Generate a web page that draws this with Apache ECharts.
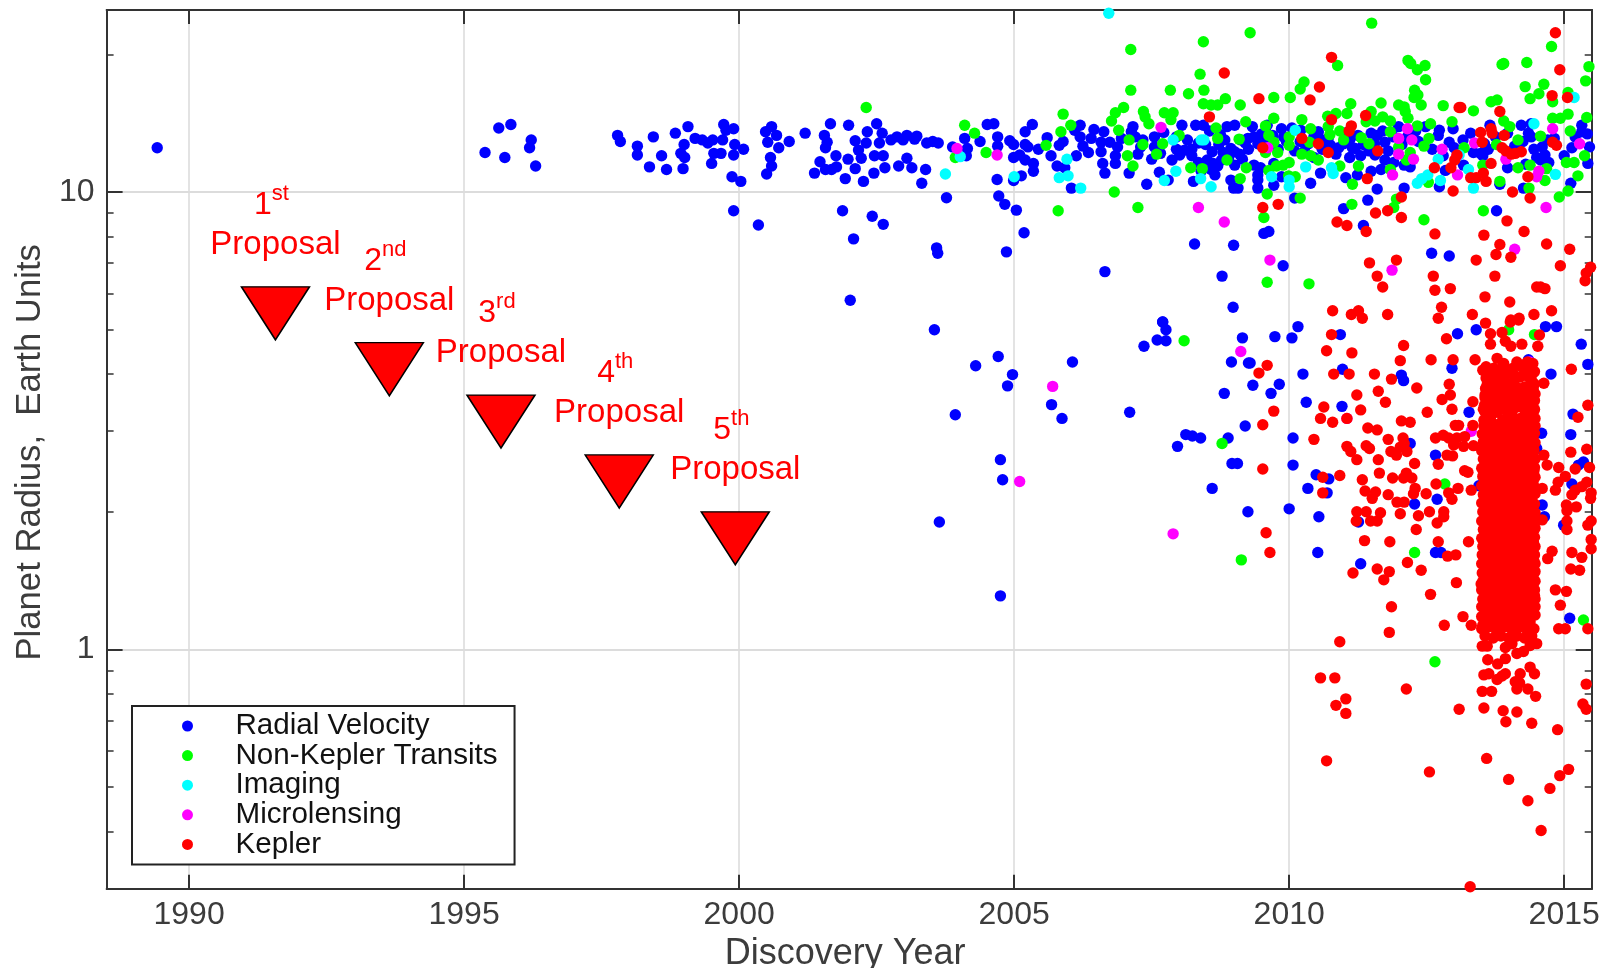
<!DOCTYPE html>
<html>
<head>
<meta charset="utf-8">
<style>html,body{margin:0;padding:0;background:#fff}#c{width:1612px;height:968px}</style>
<script src="https://cdn.jsdelivr.net/npm/echarts@6/dist/echarts.min.js"></script>
</head>
<body>
<div id="c"></div>
<script>
const radialVelocity = [[1989.42,12.5],[1995.38,12.2],[1995.63,13.8],[1995.85,14.05],[1995.74,11.9],[1996.19,12.5],[1996.22,13.0],[1996.3,11.4],
[1997.79,13.3],[1997.84,12.9],[1998.15,12.6],[1998.15,12.05],[1998.44,13.2],[1998.59,12.0],[1998.37,11.35],[1998.68,11.2],[1998.84,13.45],[1999.07,13.9],[1999.0,12.7],[1998.94,12.15],[1999.01,11.9],[1998.98,11.25],[1999.2,13.1],[1999.33,13.0],[1999.43,12.8],[1999.52,13.0],[1999.7,13.0],[1999.72,14.05],[1999.76,13.65],[1999.9,13.75],[1999.92,12.7],[2000.08,12.4],[1999.9,12.05],[1999.67,12.15],[1999.54,12.15],[1999.5,11.55],[1999.87,10.8],[2000.03,10.55],[1999.9,9.1],[2000.35,8.47],[2000.59,13.9],[2000.48,13.55],[2000.68,13.3],[2000.52,12.85],[2000.72,12.5],[2000.91,12.9],[2000.57,11.9],[2000.59,11.4],[2000.5,10.95],[2001.2,13.45],[2001.66,14.1],[2001.55,13.3],[2001.6,12.85],[2001.57,12.5],[2001.47,11.65],[2001.37,11.0],[2001.57,11.2],[2001.68,11.2],[2001.76,12.0],[2001.77,11.35],[2001.99,14.0],[2001.98,11.8],[2001.93,10.7],[2002.11,12.95],[2002.17,12.35],[2002.22,11.85],[2002.11,11.25],[2002.26,10.55],[2002.45,11.0],[2002.5,14.1],[2002.33,13.55],[2002.31,12.8],[2002.46,12.0],[2002.62,12.0],[2002.6,13.45],[2002.55,12.8],[2002.65,11.3],[2002.76,13],[2002.87,13.2],[2002.98,13],[2003.05,13.3],[2003.19,13.05],[2003.23,13.25],[2003.05,11.85],[2002.9,11.4],[2003.14,11.3],[2003.39,11.2],[2003.32,10.45],[2003.41,12.8],[2003.52,12.9],[2003.62,12.8],[2003.88,12.55],[2003.77,9.72],[2001.88,9.1],[2002.42,8.85],[2002.62,8.5],[2002.08,7.9],[2003.59,7.55],[2003.61,7.35],[2004.1,13.1],[2004.15,12.45],[2004.13,12.0],[2004.38,12.9],[2004.51,14.05],[2004.63,14.1],[2004.7,13.2],[2004.7,12.6],[2004.92,12.95],[2004.99,12.7],[2005.2,13.55],[2005.33,14.05],[2005.2,12.7],[2005.1,12.05],[2004.99,11.9],[2005.2,11.75],[2005.35,11.55],[2005.35,11.1],[2005.13,10.85],[2004.99,10.6],[2004.69,10.65],[2004.72,9.8],[2004.83,9.4],[2005.04,9.13],[2005.18,8.15],[2004.86,7.4],[2006.65,6.7],
[2005.6,13.15],[2005.44,12.4],[2005.25,12.55],[2005.67,12.0],[2005.82,12.65],[2005.89,12.9],[2005.78,11.4],[2005.92,11.3],[2006.04,10.2],[2006.13,12.0],[2006.1,13.65],[2006.2,14.0],[2006.2,13.2],[2006.25,12.6],[2006.45,13.7],[2006.63,13.55],[2006.58,12.85],[2006.58,12.25],[2006.61,11.55],[2006.65,11.0],[2006.74,12.85],[2006.88,12.55],[2006.84,12.0],[2006.84,11.55],[2007.09,11.0],[2007.13,13.55],[2007.16,13.9],[2007.2,13.2],[2007.3,12.55],[2007.34,13.0],[2007.41,10.4],[2007.55,13.2],[2007.55,12.55],[2007.66,12.15],[2007.64,11.05],[2007.8,10.62],[2008.05,14.0],[2007.87,11.75],[2008.01,12.05],[2008.15,13.0],[2008.23,12.4],[2008.3,14.0],[2008.44,14.0],[2008.23,12.0],[2008.26,10.55],[2008.48,12.7],[2008.51,11.75],[2008.62,11.55],[2008.58,11.2],[2008.65,10.9],[2008.83,13.0],[2008.87,13.9],[2009.01,14.0],[2008.94,12.45],[2009.01,12.25],[2009.01,11.45],[2008.94,10.62],[2008.99,10.2],[2009.07,10.2],[2009.26,12.4],[2009.33,13.9],[2009.36,13.2],[2009.43,12.75],[2009.36,11.45],[2009.43,10.9],[2009.43,10.62],[2009.43,10.2],[2009.6,14],[2009.86,13.75],[2009.72,11.55],[2009.72,10.35],[2009.86,10.8],[2010.1,9.7],[2010.39,10.45],[2010.35,12.75],[2010.21,13.65],[2010.53,13.55],[2010.71,13.1],[2010.57,11.0],[2011.03,10.75],[2011.24,10.9],[2011.49,11.1],[2010.99,12.75],[2011.2,12.45],[2011.49,13.45],[2011.6,13.3],[2011.56,12.05],[2011.67,11.2],[2011.74,11.75],[2011.6,10.15],[2011.74,12.85],[2011.99,13.9],[2012.09,10.2],[2012.09,11.45],[2012.2,11.35],[2012.73,13.65],[2012.71,13.3],[2012.91,12.85],[2012.98,13.75],[2012.84,11.15],[2012.73,10.27],[2013.17,11.45],[2013.16,13.0],[2013.3,13.45],[2013.48,12.15],[2013.62,12.4],[2013.65,14.0],[2013.83,10.4],[2013.97,11.3],[2014.22,14.0],[2014.4,14.1],[2014.4,13.2],[2014.6,12.55],[2014.65,12.05],[2014.57,11.75],[2014.26,10.2],[2014.82,13.1],[2015.0,12.0],[2015.14,12.5],[2015.12,10.45],[2015.32,14.0],[2015.32,13.55],[2015.46,12.55],[2015.43,11.55],[2013.77,9.1],[2011.43,9.6],[2010.99,9.2],[2011.35,8.45],
[2008.28,7.7],[2008.99,7.65],[2008.78,6.55],[2008.98,5.6],[2007.7,5.2],[2009.54,8.12],[2009.63,8.2],[2009.89,6.9],[2012.59,7.35],[2012.91,7.25],
[2007.95,12.4],[2008.1,12.35],[2008.7,11.4],[2008.77,11.75],[2009.25,13.1],[2009.48,11.3],[2010.6,13.0],[2010.9,12.5],[2011.15,12.5],[2011.35,12.7],[2011.9,13.2],[2012.48,13.9],[2012.3,13.6],[2013.55,12.75],[2013.97,13.45],[2014.35,13.45],[2014.5,11.9],[2014.45,12.4],[2014.7,13.0],[2013.52,12.0],[2009.9,13.2],[2010.05,13.8],[2010.45,13.2],[2011.1,13.0],[2008.75,13.35],[2009.12,13.0],[2009.1,12.1],[2008.35,11.6],[2008.4,11.1],[2007.25,12.1],
[2008.72,12.7],[2008.8,12.2],[2008.9,11.9],[2009.15,11.8],[2009.2,12.8],[2009.5,13.4],[2009.55,12.75],[2009.7,13.3],[2009.8,12.4],[2009.95,12.9],[2010.1,12.3],[2010.2,12.9],[2010.28,12.3],[2010.45,11.9],[2010.6,12.4],[2010.75,12.65],[2010.85,12.1],[2011.05,13.5],[2011.1,11.9],[2011.25,13.3],[2011.3,12.0],[2011.45,12.3],[2011.55,12.75],[2011.7,13.6],[2011.8,12.3],[2011.9,11.6],[2012.05,12.7],[2012.15,13.2],[2012.35,12.9],[2012.6,12.4],[2012.8,12.0],[2013.0,12.5],[2013.35,12.2],[2013.75,13.2],[2014.1,12.6],[2014.25,12.9],[2014.3,11.5],[2014.72,11.6],[2015.2,13.2],[2015.42,13.4],[2007.5,11.8],[2007.72,13.5],[2007.95,13.2],[2008.55,13.6],[2008.6,12.25],[2008.35,12.8],[2006.35,12.2],[2006.95,13.1],[2006.4,13.1],
[2002.02,5.8],[2003.55,5.0],[2004.3,4.17],[2004.71,4.37],[2004.97,3.99],[2004.88,3.77],[2003.93,3.26],[2004.75,2.6],[2004.79,2.35],[2003.64,1.9],[2004.75,1.31],[2006.06,4.25],[2005.68,3.43],[2005.87,3.2],[2007.1,3.3],[2007.36,4.6],[2007.6,4.75],[2007.7,5.2],[2007.76,5.0],[2007.76,4.73],[2007.97,2.78],[2008.12,2.95],[2008.24,2.93],
[2009.15,4.8],[2009.74,4.83],[2010.05,4.8],[2010.16,5.08],[2010.93,4.88],[2013.06,4.9],[2013.4,5.0],[2014.66,5.08],[2014.86,5.08],[2015.31,4.65],[2015.43,4.2],[2008.95,4.25],[2009.26,4.23],[2009.29,4.23],[2009.34,3.78],[2009.82,3.8],[2008.82,3.63],[2009.67,3.63],[2010.25,4.0],[2010.97,4.1],[2012.04,3.98],[2012.08,3.87],[2012.96,4.12],[2014.35,4.3],[2014.76,4.0],[2010.31,3.47],[2010.96,3.4],[2013.27,3.3],[2015.16,3.27],[2009.2,3.08],[2015.12,2.95],[2014.59,2.97],[2008.89,2.9],[2008.39,2.9],[2010.07,2.9],[2012.2,2.82],[2014.5,2.75],[2012.66,2.66],[2010.07,2.53],[2008.96,2.55],[2009.06,2.55],[2010.49,2.41],[2010.72,2.36],[2015.35,2.57],[2015.26,2.53],[2015.14,2.3],[2008.6,2.25],[2010.34,2.25],[2010.69,2.2],[2012.28,2.08],[2012.69,2.13],[2013.45,2.28],[2014.6,2.07],[2014.64,1.95],[2014.99,1.87],[2009.25,2.0],[2010.0,2.03],[2010.54,1.95],[2011.26,1.9],[2010.52,1.63],[2012.66,1.63],[2012.76,1.63],[2011.3,1.54],[2015.1,1.17]];

const nonKeplerTransits = [[2002.31,15.3],[2004.1,14.0],[2004.28,13.45],[2004.49,12.2],[2003.93,11.9],
[2009.29,22.3],[2008.44,21.3],[2007.12,20.5],[2011.5,23.4],[2008.38,18.1],[2014.77,20.8],[2010.88,18.9],[2013.9,19.1],[2013.87,19.0],[2014.32,19.2],[2015.45,18.8],[2012.16,19.4],[2012.21,19.1],[2012.33,18.5],[2012.47,18.9],[2012.48,17.6],[2015.39,17.5],[2010.27,17.4],[2010.2,16.8],[2007.12,16.7],[2007.84,16.7],[2008.17,16.4],[2008.45,16.7],[2014.29,17.0],[2014.63,17.2],[2014.54,16.4],[2014.38,16.0],[2012.28,16.7],[2012.34,16.3],[2012.27,16.1],[2012.4,15.5],[2009.72,16.1],[2010.02,16.1],[2008.84,16.0],[2008.44,15.6],[2008.58,15.5],[2008.7,15.5],[2009.11,15.5],[2006.99,15.3],[2006.84,14.9],[2006.77,14.3],[2005.89,14.8],[2007.35,15.0],[2007.38,14.6],[2007.45,14.1],[2007.73,14.9],[2007.89,14.9],[2007.85,14.4],[2011.12,15.6],[2011.05,14.85],[2010.85,14.85],[2010.7,14.65],[2011.49,15.0],[2011.67,15.65],[2011.99,15.5],[2012.09,15.35],[2012.11,15.0],[2012.8,15.45],[2013.35,15.05],[2013.67,15.75],[2013.78,15.9],[2014.79,15.75],[2015.07,16.5],[2014.79,14.5],[2014.93,14.5],[2015.07,14.8],[2015.41,14.55],[2009.72,14.5],[2010.23,14.4],[2012.16,14.5],[2012.96,14.25],[2012.57,14.1],[2012.33,13.95],[2009.21,14.25],[2011.7,14.6],[2011.84,14.3],[2011.56,14.3],[2011.4,14.25],[2013.9,14.3],[2014.01,13.9],[2006.03,14.0],[2005.85,13.55],[2006.9,13.65],[2008.67,13.8],[2009.57,13.95],[2009.63,13.3],[2010.39,13.75],[2010.71,13.9],[2010.74,13.35],[2010.92,13.6],[2010.99,13.0],[2010.0,13.2],[2011.84,13.55],[2015.11,13.6],[2007.09,13.0],[2008.0,13.3],[2009.09,13.05],[2008.7,13.1],[2005.58,12.65],[2007.34,12.7],[2007.7,12.75],[2010.37,12.85],[2009.72,12.85],[2010.0,12.65],[2011.31,13.15],[2011.45,12.75],[2012.54,13.1],[2012.45,12.6],[2011.99,12.55],[2013.18,12.5],[2014.16,13.0],[2013.77,12.7],[2014.57,13.25],[2009.79,12.2],[2009.57,12.2],[2007.59,12.1],[2007.06,12.0],[2010.23,12.1],[2010.39,12.0],[2010.53,11.75],[2012.2,12.2],[2012.13,11.75],[2015.37,12.0],[2015.18,11.6],[2015.04,11.6],[2008.87,11.75],[2007.16,11.4],[2008.21,11.3],[2008.42,11.25],[2009.22,11.3],[2010.0,11.6],[2009.89,11.45],[2009.77,11.4],[2009.63,11.15],[2010.92,11.4],[2011.26,11.4],[2011.84,11.2],[2013.52,11.45],[2014.16,11.3],[2014.38,11.45],[2014.68,11.25],[2015.25,10.85],[2009.99,10.85],[2010.11,10.8],[2009.11,10.7],[2013.83,10.55],[2014.65,10.6],[2012.53,10.5],[2011.15,10.4],[2014.36,10.2],[2015.07,10.05],[2014.91,9.75],[2009.6,9.9],[2006.82,10.0],[2010.2,9.7],[2005.8,9.1],[2007.25,9.25],[2011.14,9.4],[2011.95,9.65],[2011.9,9.25],[2009.54,8.8],[2013.53,9.1],[2012.45,8.7],[2009.6,6.35],[2010.36,6.3],
[2008.09,4.73],[2008.78,2.82],[2012.83,2.3],[2012.28,1.63],[2009.13,1.57],[2015.35,1.16],[2013.99,5.0],[2014.46,4.88],[2012.65,0.94]];

const imaging = [[2006.72,24.6],[2010.11,13.65],[2007.89,13.0],[2008.4,13.0],[2008.45,13.0],[2005.96,11.8],[2005.82,10.75],[2005.98,10.85],[2006.21,10.2],[2005.0,10.8],[2007.73,10.6],[2007.94,11.1],[2008.39,10.7],[2008.58,10.27],[2009.68,10.8],[2010.0,10.62],[2010.0,10.27],[2010.3,11.35],[2010.77,11.3],[2010.8,10.98],[2012.33,10.45],[2012.41,10.7],[2012.52,10.9],[2012.71,11.8],[2012.75,10.6],[2013.09,12.05],[2013.26,11.2],[2013.35,10.2],[2014.45,14.1],[2014.84,10.93],[2015.18,16.1],[2003.75,10.95],[2004.02,11.95]];

const microlensing = [[2003.96,12.45],[2004.69,12.05],[2007.67,13.85],[2008.35,9.25],[2008.82,8.6],[2009.65,7.1],[2011.87,6.75],[2014.1,7.5],[2014.67,9.25],[2015.28,12.75],[2014.79,13.75],[2014.54,11.1],[2014.5,10.8],[2013.94,11.8],[2013.37,12.8],[2013.06,10.9],[2013.05,12.0],[2012.78,12.4],[2012.26,11.8],[2011.99,12.1],[2011.88,10.9],[2012.23,13.0],[2011.99,13.1],[2012.15,13.75],[2009.61,12.5],[2009.12,4.48],[2014.37,4.25],[2013.31,3.0],[2011.05,3.2],[2005.7,3.76],[2005.1,2.33],[2007.89,1.79]];

const keplerScattered = [[2008.82,18.2],[2010.77,19.7],[2009.45,16.0],[2010.55,16.97],[2010.38,15.9],[2008.55,14.6],[2014.84,22.3],[2014.92,18.5],[2014.78,16.25],[2015.06,16.1],[2013.12,15.3],[2013.09,15.3],[2013.83,15.0],[2011.39,14.7],[2010.77,14.4],[2011.13,13.95],[2011.09,13.6],[2010.23,13.1],[2010.53,12.75],[2010.71,12.2],[2009.52,12.5],[2011.61,12.3],[2011.42,10.7],[2012.64,11.3],[2012.94,11.3],[2013.01,11.75],[2013.05,12.05],[2013.3,10.75],[2013.4,10.75],[2013.53,11.0],[2013.58,10.55],[2012.98,10.05],[2013.67,11.55],[2013.48,13.5],[2013.67,13.75],[2013.69,13.45],[2013.91,13.3],[2013.51,12.85],[2013.87,12.5],[2013.94,12.3],[2014.04,12.1],[2014.11,12.15],[2014.22,12.25],[2014.06,10],[2014.38,9.7],[2014.34,10.8],[2014.79,12.85],[2014.86,12.65],[2012.04,9.75],[2009.52,9.25],[2009.8,9.4],[2011.57,9.0],[2011.79,9.1],[2012.04,8.8],[2010.87,8.6],[2011.05,8.45],[2011.4,8.2],[2012.65,8.1],[2013.96,8.65],[2014.27,8.2],[2013.54,8.05],[2013.83,7.68],[2013.76,7.3],[2014.03,7.2],[2014.68,7.7],[2015.1,7.5],[2011.46,7.0],[2011.95,7.1],[2011.6,6.55],[2011.7,6.2],[2012.62,6.55],[2012.65,6.1],[2012.93,6.15],[2013.4,7.1],[2013.74,6.55],[2013.56,5.9],[2014.01,5.75],[2014.5,6.2],[2014.57,6.2],[2014.65,6.15],[2014.93,6.9],[2015.48,6.85],[2015.4,6.65],[2015.38,6.4],[2010.79,5.5],[2011.26,5.5],[2011.13,5.4],[2011.33,5.3],[2011.79,5.4],[2012.77,5.6],[2012.71,5.3],[2013.33,5.4],[2014.45,5.4],[2014.77,5.5],[2014.18,5.3],[2014.03,5.25],
[2010.77,4.88],[2012.86,4.78],[2012.08,4.62],[2010.68,4.5],[2011.14,4.45],[2012.02,4.28],[2012.58,4.3],[2012.98,4.3],[2013.38,4.3],[2009.6,4.18],[2009.45,4.02],[2010.81,4.0],[2011.09,4.0],[2011.55,4.0],[2011.86,3.9],[2012.32,3.73],[2012.91,3.8],[2012.93,3.6],[2012.78,3.52],[2011.62,3.67],[2011.23,3.6],[2011.75,3.47],[2013.34,3.48],[2010.63,3.39],[2012.96,3.35],[2013.53,3.35],[2011.3,3.34],[2012.51,3.3],[2009.72,3.32],[2009.52,3.1],[2010.57,3.2],[2010.79,3.14],[2011.05,3.2],[2011.43,3.05],[2011.6,3.02],[2012.04,3.16],[2012.2,3.14],[2013.02,3.09],[2013.08,3.09],[2013.34,3.09],[2010.45,2.88],[2011.8,2.88],[2012.07,2.9],[2012.66,2.9],[2012.8,2.94],[2012.9,2.9],[2013.05,2.9],[2013.19,2.92],[2012.99,2.8],[2013.17,2.78],[2013.35,2.79],[2011.05,2.78],[2011.12,2.71],[2011.4,2.79],[2011.46,2.75],[2011.23,2.6],[2011.85,2.71],[2011.95,2.66],[2012.02,2.77],[2012.14,2.71],[2012.09,2.82],[2011.62,2.6],[2012.28,2.55],[2012.71,2.54],[2012.87,2.66],[2012.97,2.65],[2013.19,2.46],[2013.25,2.44],[2014.63,2.66],[2014.69,2.53],[2014.9,2.5],[2015.12,2.7],[2015.41,2.74],[2015.46,2.5],[2015.2,2.48],[2015.13,4.1],[2015.25,3.22],[2015.43,3.42],[2014.63,3.82],[2009.52,2.48],[2010.61,2.38],[2010.92,2.4],[2011.64,2.43],[2011.33,2.35],[2011.88,2.37],[2012.08,2.37],[2012.13,2.43],[2012.23,2.37],[2012.67,2.3],[2010.61,2.2],[2011.38,2.22],[2011.57,2.21],[2011.51,2.14],[2011.8,2.18],[2011.96,2.1],[2012.09,2.1],[2012.26,2.19],[2012.29,2.25],[2012.49,2.19],[2012.9,2.2],[2012.96,2.13],[2013.07,2.25],[2013.31,2.23],[2014.84,2.23],[2014.89,2.32],[2015.02,2.39],[2015.41,2.32],[2015.32,2.27],[2015.2,2.23],[2015.14,2.18],[2015.49,2.2],[2015.48,2.14],[2014.6,2.25],[2011.23,2.0],[2011.4,2.0],[2011.66,1.99],[2012.02,1.98],[2012.55,2.0],[2012.81,2.0],[2012.35,1.96],[2012.81,1.95],[2015.04,2.07],[2015.05,2.01],[2015.22,2.05],[2014.6,1.92],[2011.22,1.91],[2011.48,1.91],[2011.6,1.91],[2012.69,1.89],[2015.05,1.91],[2015.49,1.91],[2015.43,1.87],[2015.05,1.83],[2012.31,1.83],[2009.58,1.8],[2011.37,1.73],[2011.83,1.72],[2012.71,1.72],[2013.26,1.72],[2015.49,1.74],[2015.49,1.66],[2014.78,1.64],[2014.7,1.58],[2015.14,1.63],[2015.32,1.59],[2009.65,1.63],[2012.88,1.6],[2013.03,1.61],[2012.15,1.55],[2011.6,1.5],[2011.82,1.48],[2012.4,1.49],[2011.16,1.47],[2011.72,1.42],[2015.12,1.5],[2015.28,1.49],[2013.04,1.4],[2013.49,1.39],[2012.57,1.32],[2011.86,1.24],[2014.84,1.35],[2015.04,1.34],[2014.93,1.25],[2013.16,1.18],[2012.82,1.13],[2013.31,1.13],[2011.82,1.09],[2014.9,1.11],[2015.02,1.11],[2015.43,1.11],[2010.92,1.04],
[2010.57,0.867],[2010.83,0.867],[2012.13,0.82],[2011.03,0.78],[2010.85,0.755],[2011.03,0.725],[2013.09,0.74],[2013.54,0.745],[2013.89,0.735],[2014.14,0.73],[2013.94,0.695],[2014.41,0.69],[2014.88,0.668],[2015.4,0.84],[2015.34,0.76],[2015.4,0.74],[2010.68,0.571],[2012.55,0.54],[2013.59,0.578],[2013.99,0.52],[2015.08,0.547],[2014.92,0.53],[2014.74,0.497],[2014.34,0.467],[2014.58,0.402],[2013.29,0.303],
[2013.51,1.017],[2013.6,1.017],[2013.61,0.95],[2013.79,0.93],[2013.54,0.88],[2013.63,0.885],[2013.78,0.86],[2013.93,0.885],[2013.87,0.875],[2014.2,0.885],[2014.38,0.915],[2014.46,0.885],[2014.11,0.85],[2014.19,0.845],[2014.14,0.82],[2014.34,0.82],[2013.51,0.81],[2013.68,0.81],[2014.48,0.79],[2013.93,0.955],[2013.93,1.01],[2014.05,1.03],[2014.14,0.98],[2014.26,0.99],[2014.38,1.02],[2014.5,1.03]];

const keplerColumnUpper = [[2013.52,4.08],[2013.66,4.0],[2013.78,4.33],[2013.9,4.22],[2013.99,4.08],[2014.23,4.15],[2014.46,4.05],[2013.72,3.72],[2013.56,3.6],[2013.6,3.45],[2013.9,3.84],[2014.02,3.8],[2014.2,3.94],[2014.35,3.94],[2014.44,3.68],[2014.47,3.62],[2014.3,3.6],[2014.38,3.45],[2014.02,3.52],[2013.87,3.45],[2013.75,3.47],[2014.14,3.39],[2014.45,3.33],[2013.66,3.22],[2013.96,3.22],[2014.2,3.2],[2014.47,3.2],[2013.54,3.17],[2013.57,5.17],[2013.66,4.9],[2013.87,4.93],[2013.93,4.72],[2014.03,4.6],[2014.23,4.65],[2013.66,4.65],[2014.52,4.6],[2014.55,4.87],[2014.02,5.2],[2014.17,5.25],[2013.96,4.0],[2013.84,3.65],[2013.68,3.58],[2014.13,3.62],[2014.4,3.75],[2014.08,3.85],[2013.6,3.8],
[2013.56,3.3],[2013.63,3.33],[2013.78,3.3],[2013.92,3.35],[2014.05,3.3],[2014.27,3.35],[2014.36,3.28],[2014.46,3.35],[2013.55,3.42],[2013.7,3.4],[2013.97,3.44],[2014.1,3.5],[2014.24,3.47],[2014.46,3.5],[2013.56,3.55],[2013.65,3.52],[2013.8,3.55],[2013.92,3.58],[2014.07,3.6],[2014.2,3.6],[2014.37,3.57],[2013.57,3.72],[2013.8,3.75],[2013.95,3.72],[2014.14,3.74],[2014.28,3.75],[2014.42,3.85],[2014.46,3.8],[2013.58,3.92],[2013.74,3.9],[2013.85,3.98],[2014.12,3.96],[2014.28,4.02],[2014.42,4.0],[2013.58,4.15],[2013.72,4.12],[2013.84,4.1],[2014.07,4.12],[2014.14,4.25],[2014.38,4.12],[2014.33,4.25],[2014.43,4.22]];

const keplerColumnRows = [[2013.62,3.16],[2013.73,3.11],[2013.88,3.17],[2014.04,3.13],[2014.12,3.18],[2014.31,3.15],[2014.41,3.12],
[2013.58,3.05],[2013.77,3.01],[2013.92,3.06],[2014.0,3.0],[2014.15,3.04],[2014.28,3.0],[2014.42,3.05],
[2013.6,2.88],[2013.71,2.93],[2013.85,2.87],[2014.03,2.91],[2014.19,2.88],[2014.33,2.92],[2014.44,2.87],
[2013.55,2.81],[2013.68,2.76],[2013.82,2.8],[2013.95,2.76],[2014.08,2.82],[2014.23,2.77],[2014.38,2.81],
[2013.63,2.69],[2013.76,2.65],[2013.9,2.7],[2014.05,2.65],[2014.17,2.69],[2014.3,2.64],[2014.43,2.68],
[2013.57,2.53],[2013.72,2.57],[2013.86,2.53],[2014.0,2.57],[2014.13,2.54],[2014.26,2.57],[2014.4,2.53],
[2013.61,2.46],[2013.74,2.42],[2013.89,2.45],[2014.02,2.42],[2014.18,2.46],[2014.32,2.42],[2014.45,2.46],
[2013.58,2.31],[2013.7,2.35],[2013.84,2.31],[2013.98,2.35],[2014.11,2.32],[2014.25,2.35],[2014.39,2.31],
[2013.62,2.25],[2013.77,2.21],[2013.91,2.25],[2014.06,2.21],[2014.2,2.25],[2014.34,2.21],[2014.46,2.25],
[2013.56,2.12],[2013.71,2.15],[2013.85,2.11],[2014.0,2.15],[2014.14,2.12],[2014.28,2.15],[2014.41,2.11],
[2013.6,2.06],[2013.75,2.03],[2013.89,2.06],[2014.03,2.02],[2014.17,2.06],[2014.31,2.03],[2014.44,2.06],
[2013.58,1.94],[2013.69,1.97],[2013.83,1.94],[2013.97,1.97],[2014.11,1.94],[2014.26,1.97],[2014.39,1.94],
[2013.63,1.89],[2013.76,1.86],[2013.91,1.89],[2014.05,1.86],[2014.19,1.89],[2014.33,1.86],[2014.46,1.89],
[2013.56,1.78],[2013.72,1.81],[2013.86,1.78],[2014.0,1.81],[2014.13,1.78],[2014.27,1.81],[2014.4,1.78],
[2013.61,1.73],[2013.74,1.7],[2013.88,1.73],[2014.03,1.7],[2014.16,1.73],[2014.31,1.7],[2014.44,1.72],
[2013.57,1.66],[2013.7,1.63],[2013.84,1.66],[2013.98,1.63],[2014.12,1.66],[2014.25,1.63],[2014.38,1.66],
[2013.62,1.56],[2013.77,1.59],[2013.91,1.56],[2014.06,1.59],[2014.2,1.56],[2014.33,1.59],[2014.45,1.56],
[2013.56,1.49],[2013.71,1.52],[2013.85,1.49],[2013.99,1.52],[2014.14,1.49],[2014.28,1.52],[2014.41,1.49],
[2013.6,1.43],[2013.75,1.45],[2013.89,1.43],[2014.03,1.45],[2014.17,1.43],[2014.31,1.45],[2014.44,1.43],
[2013.58,1.37],[2013.69,1.39],[2013.83,1.37],[2013.97,1.39],[2014.11,1.37],[2014.26,1.39],[2014.39,1.37],
[2013.63,1.31],[2013.76,1.33],[2013.91,1.31],[2014.05,1.33],[2014.19,1.31],[2014.33,1.33],[2014.46,1.31],
[2013.56,1.26],[2013.72,1.28],[2013.86,1.26],[2014.0,1.28],[2014.13,1.26],[2014.27,1.28],[2014.4,1.26],
[2013.61,1.22],[2013.74,1.2],[2013.88,1.22],[2014.03,1.2],[2014.16,1.22],[2014.31,1.2],[2014.44,1.22],
[2013.57,1.15],[2013.7,1.17],[2013.84,1.15],[2013.98,1.17],[2014.12,1.15],[2014.25,1.17],[2014.38,1.15],
[2013.5,1.11],[2013.62,1.12],[2013.77,1.1],[2013.91,1.12],[2014.06,1.1],[2014.2,1.12],[2014.33,1.1],[2014.45,1.11],
[2013.56,1.07],[2013.71,1.06],[2013.85,1.07],[2013.99,1.06],[2014.14,1.07],[2014.28,1.06],[2014.41,1.07]];

const keplerColumnGaps = [[2013.54,3.08],[2013.68,3.07],[2013.82,3.1],[2013.97,3.09],[2014.09,3.07],[2014.23,3.09],[2014.36,3.07],[2014.47,3.08],
[2013.51,2.96],[2013.66,2.98],[2013.79,2.95],[2013.95,2.97],[2014.08,2.95],[2014.24,2.97],[2014.38,2.95],[2014.46,2.97],
[2013.53,2.84],[2013.65,2.83],[2013.78,2.85],[2013.93,2.83],[2014.1,2.85],[2014.26,2.83],[2014.39,2.85],[2014.47,2.83],
[2013.5,2.72],[2013.61,2.73],[2013.75,2.71],[2013.88,2.74],[2014.02,2.71],[2014.15,2.74],[2014.31,2.72],[2014.45,2.73],
[2013.53,2.61],[2013.68,2.62],[2013.82,2.6],[2013.97,2.62],[2014.09,2.6],[2014.22,2.62],[2014.35,2.6],[2014.47,2.61],
[2013.5,2.49],[2013.65,2.5],[2013.79,2.48],[2013.93,2.5],[2014.07,2.48],[2014.2,2.5],[2014.36,2.48],[2014.46,2.5],
[2013.52,2.39],[2013.66,2.38],[2013.8,2.4],[2013.95,2.38],[2014.08,2.39],[2014.23,2.38],[2014.37,2.4],[2014.47,2.38],
[2013.5,2.28],[2013.65,2.29],[2013.76,2.27],[2013.89,2.29],[2014.03,2.28],[2014.16,2.29],[2014.3,2.27],[2014.44,2.29],
[2013.53,2.18],[2013.67,2.19],[2013.81,2.17],[2013.95,2.19],[2014.09,2.17],[2014.23,2.19],[2014.37,2.18],[2014.47,2.19],
[2013.5,2.09],[2013.64,2.08],[2013.79,2.1],[2013.93,2.08],[2014.07,2.1],[2014.21,2.08],[2014.35,2.09],[2014.46,2.08],
[2013.52,2.0],[2013.66,1.99],[2013.8,2.0],[2013.94,1.99],[2014.08,2.0],[2014.22,1.99],[2014.36,2.0],[2014.47,1.99],
[2013.5,1.91],[2013.67,1.92],[2013.81,1.91],[2013.96,1.92],[2014.09,1.91],[2014.23,1.92],[2014.37,1.91],[2014.46,1.92],
[2013.53,1.83],[2013.66,1.84],[2013.8,1.83],[2013.95,1.84],[2014.08,1.83],[2014.22,1.84],[2014.35,1.83],[2014.47,1.84],
[2013.5,1.75],[2013.65,1.76],[2013.79,1.74],[2013.93,1.76],[2014.07,1.74],[2014.2,1.76],[2014.36,1.75],[2014.46,1.76],
[2013.52,1.68],[2013.66,1.68],[2013.8,1.67],[2013.94,1.68],[2014.08,1.67],[2014.21,1.68],[2014.34,1.67],[2014.47,1.68],
[2013.51,1.61],[2013.67,1.61],[2013.82,1.62],[2013.95,1.61],[2014.09,1.62],[2014.24,1.61],[2014.37,1.62],[2014.46,1.61],
[2013.5,1.54],[2013.66,1.54],[2013.8,1.55],[2013.95,1.54],[2014.1,1.55],[2014.24,1.54],[2014.37,1.55],[2014.47,1.54],
[2013.51,1.47],[2013.65,1.47],[2013.79,1.47],[2013.93,1.48],[2014.07,1.47],[2014.21,1.48],[2014.35,1.47],[2014.47,1.48],
[2013.52,1.41],[2013.65,1.41],[2013.78,1.41],[2013.92,1.41],[2014.06,1.41],[2014.21,1.41],[2014.35,1.41],[2014.47,1.41],
[2013.5,1.35],[2013.68,1.35],[2013.82,1.35],[2013.95,1.35],[2014.08,1.35],[2014.22,1.35],[2014.36,1.35],[2014.46,1.35],
[2013.52,1.29],[2013.67,1.29],[2013.8,1.3],[2013.95,1.29],[2014.09,1.3],[2014.23,1.29],[2014.36,1.3],[2014.47,1.29],
[2013.5,1.24],[2013.64,1.24],[2013.78,1.24],[2013.93,1.24],[2014.07,1.24],[2014.2,1.24],[2014.34,1.24],[2014.47,1.24],
[2013.5,1.18],[2013.66,1.19],[2013.79,1.18],[2013.94,1.19],[2014.08,1.18],[2014.21,1.19],[2014.35,1.18],[2014.47,1.19],
[2013.52,1.13],[2013.66,1.14],[2013.8,1.13],[2013.95,1.14],[2014.09,1.13],[2014.24,1.14],[2014.37,1.13]];

const proposalYears = [1991.57,1993.64,1995.67,1997.82,1999.93];
const proposalRadii = [5.43,4.10,3.15,2.33,1.75];
const proposalNumbers = ['1','2','3','4','5'];
const proposalSuffixes = ['st','nd','rd','th','th'];
const proposalWord = 'Proposal';

const methodNames = ['Radial Velocity','Non-Kepler Transits','Imaging','Microlensing','Kepler'];
const methodColors = ['#0000ff','#00ff00','#00ffff','#ff00ff','#ff0000'];
const methodData = [radialVelocity, nonKeplerTransits, imaging, microlensing, keplerScattered.concat(keplerColumnUpper, keplerColumnRows, keplerColumnGaps)];

const yearTickValues = [1990,1995,2000,2005,2010,2015];
const labelledRadii = [1, 10];
const minorRadii = [0.4,0.5,0.6,0.7,0.8,0.9,2,3,4,5,6,7,8,9,20];

const FONT = 'Liberation Sans';
const AXC = '#333333';
const txt = '#3c3c3c';
const line = {show:true, onZero:false, lineStyle:{color:AXC, width:2}};
function yAx(pos, extra){
  return Object.assign({type:'log', logBase:10, min:0.3, max:25, position:pos, axisLine:line,
    axisLabel:{show:false}, splitLine:{show:false}, minorTick:{show:false}, minorSplitLine:{show:false}}, extra);
}
function xAx(pos, extra){
  return Object.assign({type:'value', min:1988.5, max:2015.5, position:pos, axisLine:line,
    axisTick:{show:true, inside:true, length:14, customValues:yearTickValues, lineStyle:{color:AXC,width:2}},
    axisLabel:{show:false}, splitLine:{show:false}}, extra);
}

const series = methodNames.map((n,i)=>({
  name:n, type:'scatter', xAxisIndex:0, yAxisIndex:0, data:methodData[i], symbol:'circle', symbolSize:11.4,
  itemStyle:{color:methodColors[i], opacity:1}, silent:true, z:3+i, clip:true, large:false
}));
series.push({
  name:'Proposals', type:'scatter', xAxisIndex:0, yAxisIndex:0, z:10, silent:true,
  data:proposalYears.map((y,i)=>[y,proposalRadii[i]]),
  symbol:'triangle', symbolRotate:180, symbolSize:[68,53],
  itemStyle:{color:'#ff0000', borderColor:'#000', borderWidth:1.5, opacity:1},
  label:{show:true, position:'top', distance:23, color:'#ff0000', fontFamily:FONT, align:'center',
    formatter:p=>`{n|${proposalNumbers[p.dataIndex]}}{s|${proposalSuffixes[p.dataIndex]}}\n{p|${proposalWord}}`,
    rich:{
      n:{fontSize:32, fontFamily:FONT, color:'#ff0000', lineHeight:44},
      s:{fontSize:22, fontFamily:FONT, color:'#ff0000', lineHeight:32, verticalAlign:'top', padding:[0,8,0,0]},
      p:{fontSize:33, fontFamily:FONT, color:'#ff0000', lineHeight:36}
    }}
});

const option = {
  animation:false, backgroundColor:'#fff',
  textStyle:{fontFamily:FONT},
  grid:{left:106.6, right:20.3, top:10, bottom:79.3, containLabel:false, outerBoundsMode:'none'},
  legend:{
    data:methodNames, orient:'vertical', left:132, top:706, selectedMode:false,
    backgroundColor:'#fff', borderColor:'#222', borderWidth:2, borderRadius:0,
    padding:[5,17,5,50], itemGap:-0.4, itemWidth:12, itemHeight:11, icon:'circle',
    textStyle:{fontFamily:FONT, fontSize:29.6, color:'#111', lineHeight:29, padding:[0,0,0,37]}
  },
  xAxis:[
    xAx('bottom',{name:'Discovery Year', nameLocation:'middle', nameGap:44,
      nameTextStyle:{fontFamily:FONT, fontSize:36, color:txt, padding:[0,8,0,0]},
      axisLabel:{show:true, customValues:yearTickValues, fontFamily:FONT, fontSize:32, color:txt, margin:10, formatter:v=>String(v), hideOverlap:false},
      splitLine:{show:true, customValues:yearTickValues, lineStyle:{color:'#dcdcdc', width:1.6}}}),
    xAx('top',{})
  ],
  yAxis:[
    yAx('left',{name:'Planet Radius,  Earth Units', nameLocation:'middle', nameGap:54, nameRotate:90,
      nameTextStyle:{fontFamily:FONT, fontSize:34.7, color:txt, padding:[0,6,0,0]},
      axisTick:{show:true, inside:true, length:16, customValues:labelledRadii, lineStyle:{color:AXC,width:2}},
      axisLabel:{show:true, customValues:labelledRadii, fontFamily:FONT, fontSize:32, color:txt, margin:12, formatter:v=>String(Math.round(v))},
      splitLine:{show:true, customValues:labelledRadii, lineStyle:{color:'#dcdcdc', width:2}}}),
    yAx('left',{axisTick:{show:true, inside:true, length:7, customValues:minorRadii, lineStyle:{color:AXC,width:1.5}}}),
    yAx('right',{axisTick:{show:true, inside:true, length:16, customValues:labelledRadii, lineStyle:{color:AXC,width:2}}}),
    yAx('right',{axisTick:{show:true, inside:true, length:7, customValues:minorRadii, lineStyle:{color:AXC,width:1.5}}})
  ],
  series
};
const chart = echarts.init(document.getElementById('c'), null, {renderer:'canvas', width:1612, height:968});
chart.setOption(option);
</script>
</body>
</html>
